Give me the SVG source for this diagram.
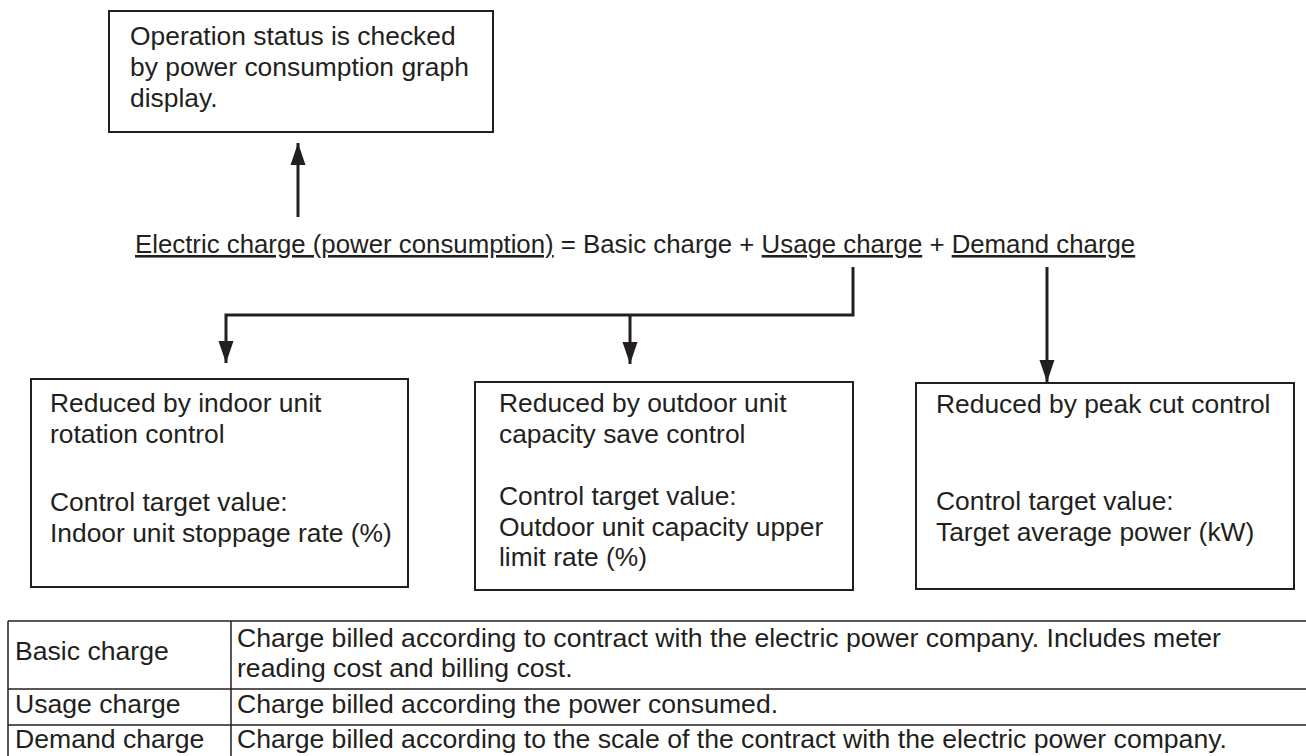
<svg xmlns="http://www.w3.org/2000/svg" width="1306" height="756" viewBox="0 0 1306 756">
<style>
  text { font-family: "Liberation Sans", Arial, sans-serif; font-size: 26.4px; fill: #231f20; }
  .eq { font-size: 25.8px; }
  .tt { font-size: 26.6px; }
  .box { fill: #ffffff; stroke: #231f20; stroke-width: 2; }
  .conn { fill: none; stroke: #231f20; stroke-width: 3; }
  .tbl { stroke: #231f20; stroke-width: 1.5; fill: none; }
  .u { text-decoration: underline; }
</style>
<defs>
  <marker id="arr" markerUnits="userSpaceOnUse" markerWidth="22" markerHeight="16" refX="22" refY="8" orient="auto">
    <path d="M0,0.5 L22,8 L0,15.5 Z" fill="#231f20"/>
  </marker>
</defs>
<rect width="1306" height="756" fill="#ffffff"/>

<g id="top-box">
  <rect class="box" x="109" y="11" width="384" height="121"/>
  <text x="130" y="45">Operation status is checked</text>
  <text x="130" y="76">by power consumption graph</text>
  <text x="130" y="107">display.</text>
</g>

<g id="equation">
  <text class="eq" x="135" y="253"><tspan class="u">Electric charge (power consumption)</tspan> = Basic charge + <tspan class="u">Usage charge</tspan> + <tspan class="u">Demand charge</tspan></text>
</g>

<g id="connectors">
  <line class="conn" x1="298" y1="217" x2="298" y2="143" marker-end="url(#arr)"/>
  <polyline class="conn" points="853,267 853,315 226,315 226,363" marker-end="url(#arr)"/>
  <line class="conn" x1="630" y1="315" x2="630" y2="364" marker-end="url(#arr)"/>
  <line class="conn" x1="1047" y1="267" x2="1047" y2="382" marker-end="url(#arr)"/>
</g>

<g id="box-indoor">
  <rect class="box" x="31" y="379" width="377" height="208"/>
  <text x="50" y="412">Reduced by indoor unit</text>
  <text x="50" y="443">rotation control</text>
  <text x="50" y="511">Control target value:</text>
  <text x="50" y="542">Indoor unit stoppage rate (%)</text>
</g>

<g id="box-outdoor">
  <rect class="box" x="475" y="382" width="378" height="208"/>
  <text x="499" y="412">Reduced by outdoor unit</text>
  <text x="499" y="443">capacity save control</text>
  <text x="499" y="505">Control target value:</text>
  <text x="499" y="536">Outdoor unit capacity upper</text>
  <text x="499" y="566">limit rate (%)</text>
</g>

<g id="box-peak">
  <rect class="box" x="916" y="383" width="378" height="206"/>
  <text x="936" y="413">Reduced by peak cut control</text>
  <text x="936" y="510">Control target value:</text>
  <text x="936" y="541">Target average power (kW)</text>
</g>

<g id="table">
  <line class="tbl" x1="8" y1="621" x2="1306" y2="621"/>
  <line class="tbl" x1="8" y1="689" x2="1306" y2="689"/>
  <line class="tbl" x1="8" y1="725" x2="1306" y2="725"/>
  <line class="tbl" x1="8" y1="760" x2="1306" y2="760"/>
  <line class="tbl" x1="8" y1="621" x2="8" y2="760"/>
  <line class="tbl" x1="231" y1="621" x2="231" y2="760"/>
  <text class="tt" x="15" y="660">Basic charge</text>
  <text class="tt" x="237" y="647">Charge billed according to contract with the electric power company. Includes meter</text>
  <text class="tt" x="237" y="677">reading cost and billing cost.</text>
  <text class="tt" x="15" y="713">Usage charge</text>
  <text class="tt" x="237" y="713">Charge billed according the power consumed.</text>
  <text class="tt" x="15" y="748">Demand charge</text>
  <text class="tt" x="237" y="748">Charge billed according to the scale of the contract with the electric power company.</text>
</g>
</svg>
